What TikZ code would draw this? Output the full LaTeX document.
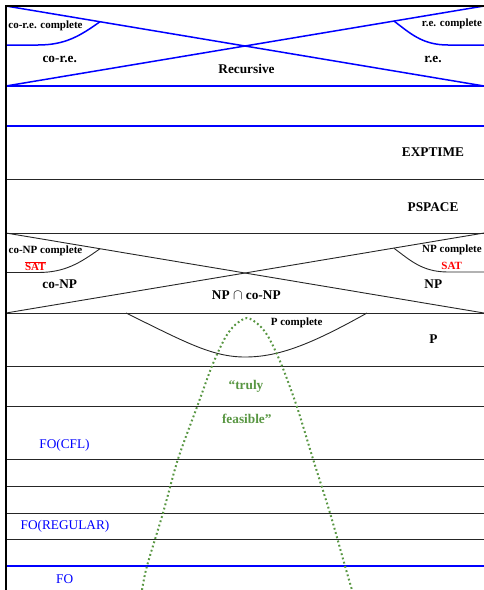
\documentclass[tikz,border=0pt]{standalone}
\usepackage{fontspec}
\setmainfont{Liberation Serif}
\definecolor{feasgreen}{RGB}{88,150,66}
\begin{document}
\begin{tikzpicture}[x=1pt,y=-1pt,
  blueline/.style={blue, line width=1.5pt},
  blackline/.style={black!85, line width=0.9pt},
  bordline/.style={black, line width=2pt},
  biglbl/.style={font=\bfseries\fontsize{13.3}{15}\selectfont, inner sep=0pt},
  smalllbl/.style={font=\bfseries\fontsize{11}{13}\selectfont, inner sep=0pt},
  satlbl/.style={font=\bfseries\fontsize{11}{13}\selectfont, text=red, inner sep=0pt},
  folbl/.style={font=\fontsize{13.3}{15}\selectfont, text=blue, inner sep=0pt},
  feaslbl/.style={font=\bfseries\fontsize{13.3}{15}\selectfont, text=feasgreen, inner sep=0pt},
  feasline/.style={feasgreen, line width=2pt, dash pattern=on 1.8pt off 2.6pt}]
\useasboundingbox (0,0) rectangle (484,590);
% horizontal separators
\foreach \yy in {179,233,313,366,406,459,486,513,539}
  \draw[blackline] (6,\yy) -- (484,\yy);
\foreach \yy in {86,126,566}
  \draw[blueline] (6,\yy) -- (484,\yy);
% recursive / r.e. / co-r.e.
\draw[blueline] (6,6) -- (484,86);
\draw[blueline] (6,86) -- (484,6);
\draw[blueline] (6,45) -- (38,45) .. controls (65,45) and (80,36) .. (100,21.7);
\draw[blueline] (484,45) -- (448,45) .. controls (422,45) and (410,33) .. (394,21.1);
% NP / co-NP
\draw[blackline] (6,233) -- (484,313);
\draw[blackline] (6,313) -- (484,233);
\draw[blackline] (6,272.5) -- (38,272.5) .. controls (65,272.5) and (80,263) .. (100,248.7);
\draw[blackline] (484,272) -- (448,272) .. controls (422,272) and (410,260) .. (394,248.3);
% P complete
\draw[blackline] (126,313) .. controls (185,342) and (212,357) .. (245,357)
  .. controls (278,357) and (310,345) .. (367,313);
% borders
\draw[bordline] (5,6) -- (484,6);
\draw[bordline] (6,5) -- (6,590);
% truly feasible
\draw[feasline] plot[smooth] coordinates {(142,590) (147,566) (163,513) (178,459) (197,407) (212,366) (225,338) (235,325) (247,318) (259,325) (269,338) (282,366) (297,407) (313,459) (330,513) (345,566) (352,590)};
% labels
\node[smalllbl] (coreC) at (45.5,25.5) {co-r.e. complete};
\node[biglbl] (core) at (59.7,59) {co-r.e.};
\node[biglbl] (rec) at (246.5,68.5) {Recursive};
\node[smalllbl] (reC) at (452,24) {r.e. complete};
\node[biglbl] (re) at (433,59) {r.e.};
\node[biglbl] (exp) at (433,152.3) {EXPTIME};
\node[biglbl] (psp) at (433,206.7) {PSPACE};
\node[smalllbl] (conpC) at (45.5,251) {co-NP complete};
\node[satlbl] (satL) at (35.3,266) {$\overline{\mbox{\textbf{SAT}}}$};
\node[biglbl] (conp) at (59.7,284) {co-NP};
\node[biglbl] (npco) at (246.3,295) {NP {\mdseries$\cap$} co-NP};
\node[smalllbl] (npC) at (452,250) {NP complete};
\node[satlbl] (satR) at (451.7,266) {SAT};
\node[biglbl] (np) at (433.3,284) {NP};
\node[smalllbl] (pC) at (296.7,322.7) {P complete};
\node[biglbl] (p) at (433.5,339.3) {P};
\node[feaslbl] (truly) at (246,386) {“truly};
\node[feaslbl] (feas) at (246.8,419) {feasible”};
\node[folbl] (focfl) at (64.5,445.7) {FO(CFL)};
\node[folbl] (foreg) at (65,526) {FO(REGULAR)};
\node[folbl] (fo) at (64.7,579.3) {FO};
\end{tikzpicture}
\end{document}
